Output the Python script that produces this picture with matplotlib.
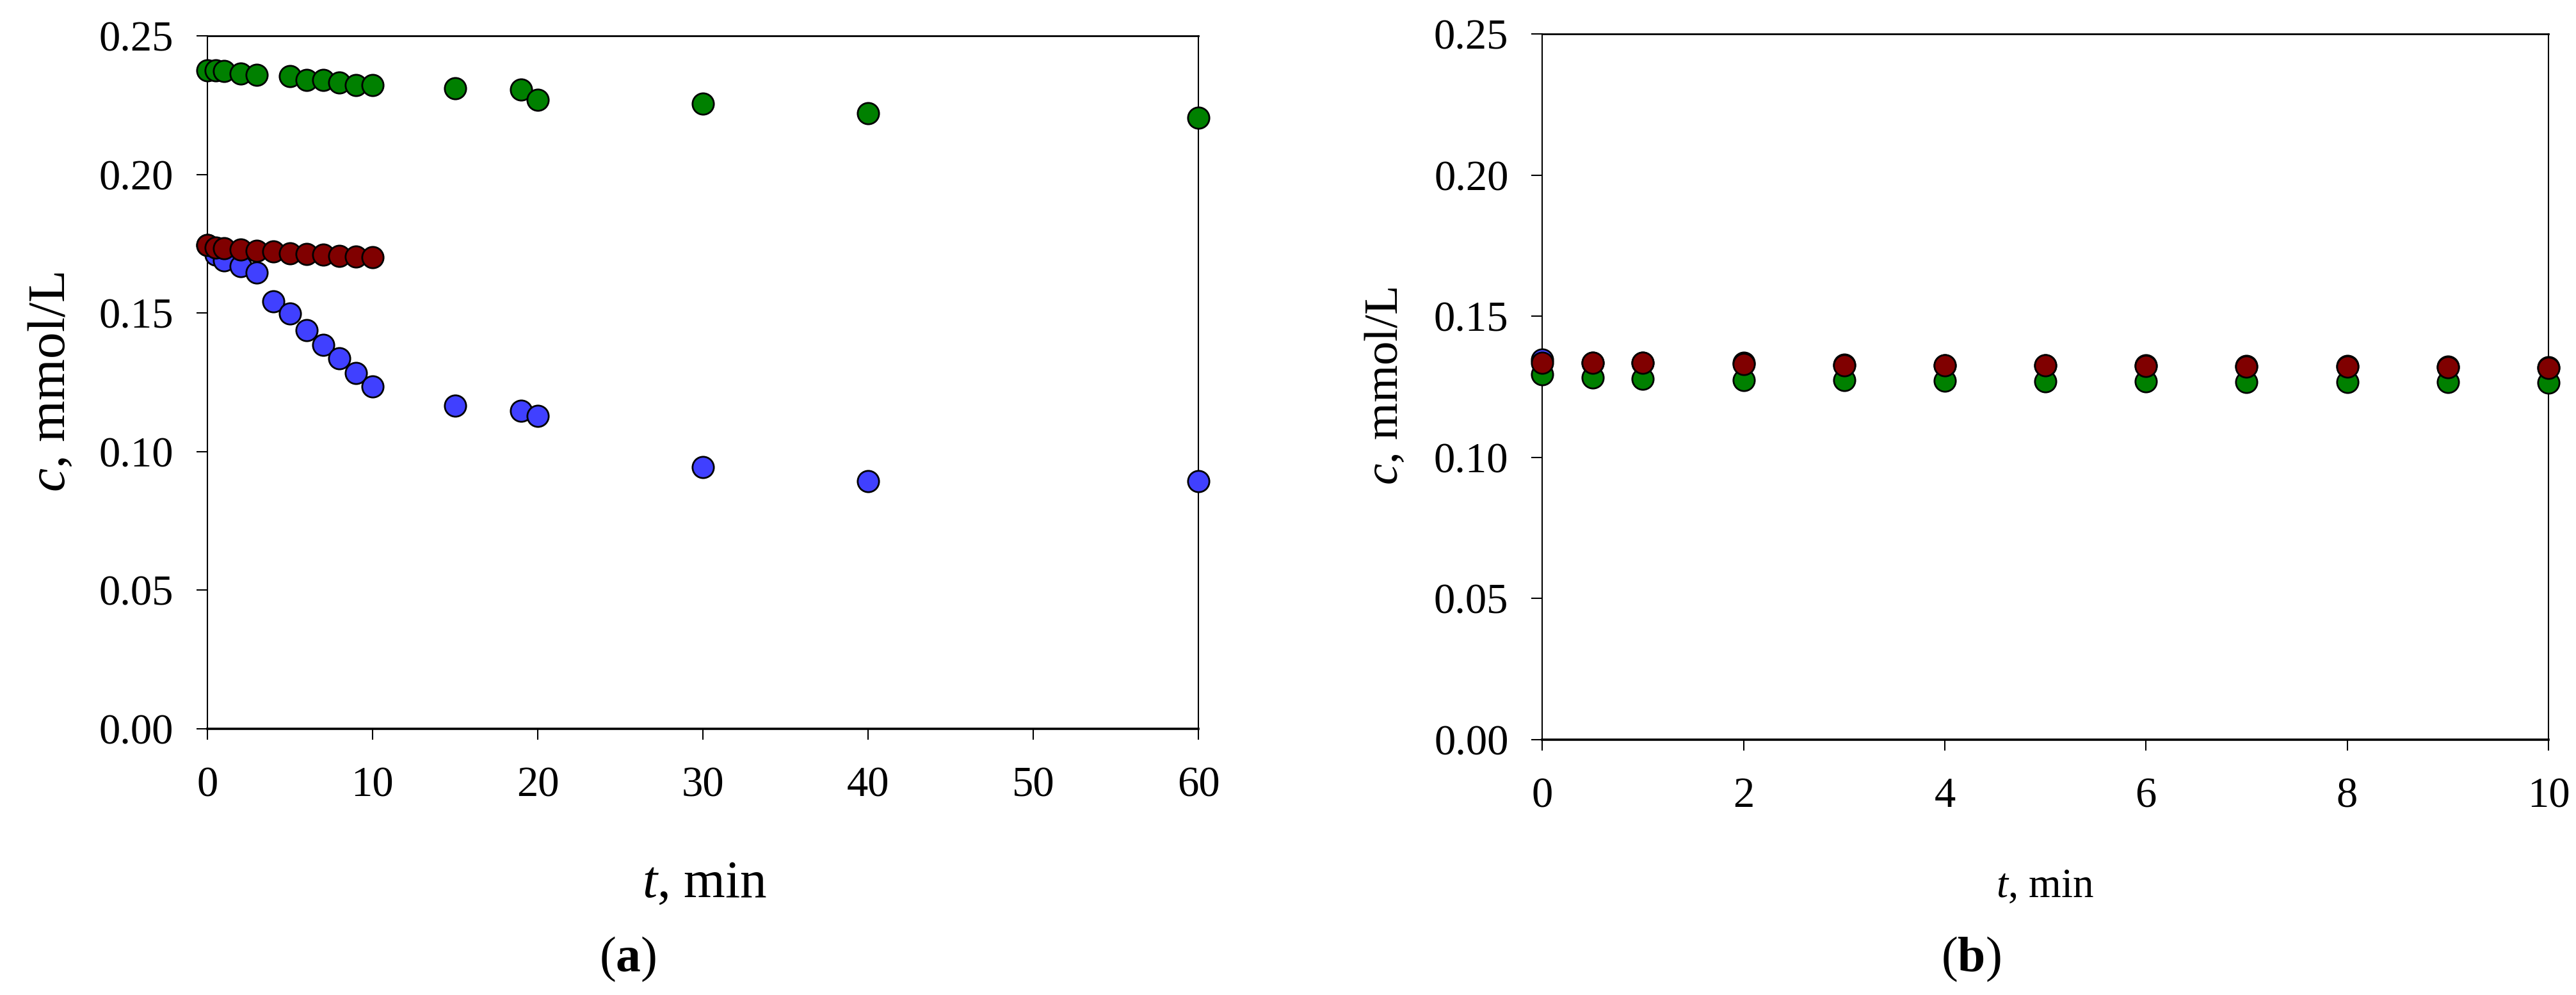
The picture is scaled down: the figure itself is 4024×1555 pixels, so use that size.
import matplotlib
matplotlib.use("Agg")
import matplotlib.pyplot as plt

plt.rcParams['font.family'] = ['Liberation Serif', 'DejaVu Serif']
plt.rcParams['mathtext.fontset'] = 'custom'
plt.rcParams['mathtext.rm'] = 'Liberation Serif'
plt.rcParams['mathtext.it'] = 'Liberation Serif:italic'
plt.rcParams['mathtext.bf'] = 'Liberation Serif:bold'

# panel (a): 0-60 min
t_a_blue = [0, 0.5, 1, 2, 3, 4, 5, 6, 7, 8, 9, 10, 15, 19, 20, 30, 40, 60]
c_a_blue = [0.1745, 0.1710, 0.1690, 0.1668, 0.1645, 0.1541, 0.1498, 0.1437, 0.1385,
            0.1337, 0.1284, 0.1235, 0.1165, 0.1147, 0.1129, 0.0944, 0.0894, 0.0894]
t_a_green = [0, 0.5, 1, 2, 3, 5, 6, 7, 8, 9, 10, 15, 19, 20, 30, 40, 60]
c_a_green = [0.2375, 0.2375, 0.2373, 0.2364, 0.2358, 0.2355, 0.2341, 0.2340, 0.2331,
             0.2323, 0.2322, 0.2310, 0.2306, 0.2269, 0.2255, 0.2221, 0.2205]
t_a_red = [0, 0.5, 1, 2, 3, 4, 5, 6, 7, 8, 9, 10]
c_a_red = [0.1745, 0.1737, 0.1733, 0.1728, 0.1725, 0.1722, 0.1714, 0.1712, 0.1710,
           0.1706, 0.1704, 0.1702]

# panel (b): 0-10 min
t_b = [0, 0.5, 1, 2, 3, 4, 5, 6, 7, 8, 9, 10]
c_b_blue = [0.1346, 0.1336, 0.1336, 0.1334, 0.1329, 0.1327, 0.1327, 0.1325, 0.1323,
            0.1323, 0.1321, 0.1319]
c_b_green = [0.1294, 0.1283, 0.1279, 0.1274, 0.1273, 0.1272, 0.1270, 0.1269, 0.1268,
             0.1266, 0.1266, 0.1264]
c_b_red = [0.1336, 0.1334, 0.1334, 0.1331, 0.1327, 0.1325, 0.1325, 0.1323, 0.1321,
           0.1321, 0.1319, 0.1317]

y_ticks = [0.00, 0.05, 0.10, 0.15, 0.20, 0.25]
x_ticks_a = [0, 10, 20, 30, 40, 50, 60]
x_ticks_b = [0, 2, 4, 6, 8, 10]

BLUE = '#4040FF'
GREEN = '#008000'
RED = '#800000'


def style_axes(ax, xlim, xticks):
    ax.set_xlim(xlim)
    ax.set_ylim(0, 0.25)
    ax.set_xticks(xticks)
    ax.set_yticks(y_ticks)
    ax.set_yticklabels(['%.2f' % v for v in y_ticks])
    ax.tick_params(direction='out', length=12, width=1.5, labelsize=48)
    ax.tick_params(axis='x', pad=30)
    ax.tick_params(axis='y', pad=26)
    for side in ['left', 'right']:
        ax.spines[side].set_linewidth(1.5)
    ax.spines['top'].set_linewidth(2)
    ax.spines['bottom'].set_linewidth(2.6)


def dots(ax, t, c, color):
    ax.plot(t, c, 'o', ms=24, mfc=color, mec='black', mew=2, clip_on=False, zorder=3)


fig = plt.figure(figsize=(40.24, 15.55), dpi=100)
ax1 = fig.add_axes([0.0805, 0.2675, 0.4652 - 0.0805, 0.964 - 0.2675])
ax2 = fig.add_axes([0.5987, 0.2566, 0.9893 - 0.5987, 0.9659 - 0.2566])

dots(ax1, t_a_blue, c_a_blue, BLUE)
dots(ax1, t_a_green, c_a_green, GREEN)
dots(ax1, t_a_red, c_a_red, RED)
style_axes(ax1, (0, 60), x_ticks_a)

dots(ax2, t_b, c_b_blue, BLUE)
dots(ax2, t_b, c_b_green, GREEN)
dots(ax2, t_b, c_b_red, RED)
style_axes(ax2, (0, 10), x_ticks_b)

# axis titles
fig.text(0.0201, 0.616, r'$c$, mmol/L', rotation=90, ha='center', va='center', fontsize=60)
fig.text(0.2734, 0.0984, r'$t$, min', ha='center', va='baseline', fontsize=60)
fig.text(0.538, 0.612, r'$c$, mmol/L', rotation=90, ha='center', va='center', fontsize=54)
fig.text(0.794, 0.0984, r'$t$, min', ha='center', va='baseline', fontsize=47)

# panel letters
fig.text(0.2438, 0.0238, r'($\mathbf{a}$)', ha='center', va='baseline', fontsize=56)
fig.text(0.7652, 0.0238, r'($\mathbf{b}$)', ha='center', va='baseline', fontsize=56)

fig.savefig('out.png', dpi=100, facecolor='white')
